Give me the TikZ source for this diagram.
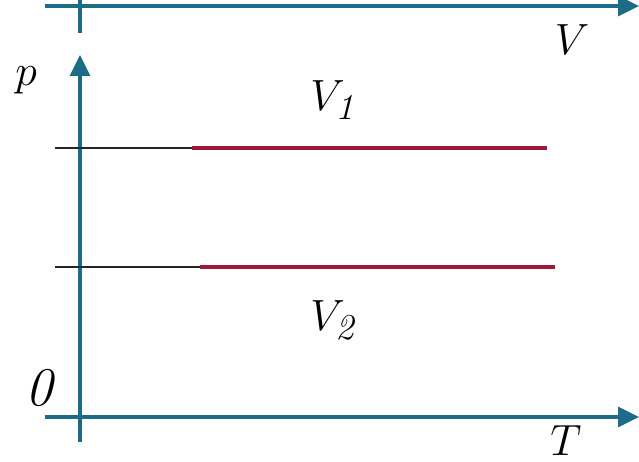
\documentclass[tikz,border=0pt]{standalone}
\usetikzlibrary{arrows.meta}
\definecolor{axisblue}{RGB}{28,108,136}
\definecolor{isored}{RGB}{160,24,56}
\tikzset{
  axis/.style={axisblue, line width=1.8pt, -{Triangle[length=0.42cm, width=0.4cm]}},
  isoline/.style={isored, line width=2.8pt},
  guide/.style={black!85, line width=1.1pt},
  lbl/.style={font=\fontsize{31}{35}\selectfont, inner sep=0pt}
}
\begin{document}
\begin{tikzpicture}[x=0.02cm, y=-0.02cm]
    \useasboundingbox (0,0) rectangle (639,462);

    % 上一幅图留下的 V 轴
    \coordinate (Vs) at (45, 6);
    \coordinate (Ve) at (639, 6);
    \draw[axis] (Vs) -- (Ve);
    \draw[axisblue, line width=1.8pt] (80, 0) -- (80, 33);
    \node[lbl] (Vlab) at (572, 40) {$V$};

    % p-T 坐标轴
    \coordinate (Ts) at (45, 417);
    \coordinate (Te) at (639, 417);
    \coordinate (ps) at (80, 442);
    \coordinate (pe) at (80, 55);
    \draw[axis] (Ts) -- (Te);
    \draw[axis] (ps) -- (pe);
    \node[lbl] (plab) at (26, 80) {$p$};
    \node[lbl] (Olab) at (40, 388) {\textit{0}};
    \node[lbl, anchor=north] (Tlab) at (566, 425) {$T$};

    % 两条等容线 V1, V2
    \coordinate (A0) at (55, 148);
    \coordinate (A1) at (192, 148);
    \coordinate (A2) at (547, 148);
    \coordinate (B0) at (55, 267);
    \coordinate (B1) at (200, 267);
    \coordinate (B2) at (555, 267);
    \draw[guide] (A0) -- (A1);
    \draw[guide] (B0) -- (B1);
    \draw[isoline] (A1) -- (A2);
    \draw[isoline] (B1) -- (B2);

    % 标注
    \node[lbl] (V1lab) at (335, 100) {$V_{\mathit{1}}$};
    \node[lbl] (V2lab) at (335, 320) {$V_{\mathit{2}}$};
\end{tikzpicture}
\end{document}
